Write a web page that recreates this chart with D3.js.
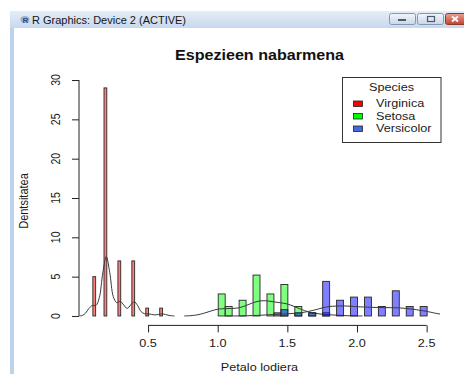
<!DOCTYPE html>
<html>
<head>
<meta charset="utf-8">
<script src="https://cdn.jsdelivr.net/npm/d3@7"></script>
<style>
  html, body { margin: 0; padding: 0; background: #fff; }
  svg { display: block; font-family: "Liberation Sans", Arial, sans-serif; }
</style>
</head>
<body>
<svg id="chart" width="464" height="374"></svg>
<script>
// Histogram bins (density per bin) for each species, with the bin breaks
const setosaBreakStart = 0.1, setosaBinWidth = 0.02;
const setosaDensity = [5, 0, 0, 0, 29, 0, 0, 0, 0, 7, 0, 0, 0, 0, 7, 0, 0, 0, 0, 1, 0, 0, 0, 0, 1];

const versicolorBreakStart = 1.0, versicolorBinWidth = 0.05;
const versicolorDensity = [2.8, 1.2, 0, 2.0, 0, 5.2, 0, 2.8, 0, 4.0, 0, 1.2, 0, 0.4, 0, 0.4];

const virginicaBreakStart = 1.4, virginicaBinWidth = 0.05;
const virginicaDensity = [0.4, 0.8, 0, 0.4, 0, 0.4, 0, 4.4, 0, 2.0, 0, 2.4, 0, 2.4, 0, 1.2, 0, 3.2, 0, 1.2, 0, 1.2];

// Kernel density curves
const setosaCurveX = [0.007, 0.03, 0.05, 0.075, 0.1, 0.125, 0.15, 0.175, 0.2, 0.225, 0.25, 0.275, 0.3, 0.325, 0.35, 0.375, 0.4, 0.425, 0.45, 0.475, 0.5, 0.525, 0.55, 0.575, 0.6, 0.625, 0.65, 0.675, 0.69];
const setosaCurveY = [0.0, 0.08, 0.34, 0.95, 1.34, 1.32, 2.34, 5.48, 7.55, 5.5, 2.48, 1.69, 1.86, 1.4, 0.96, 1.4, 1.82, 1.32, 0.55, 0.28, 0.27, 0.2, 0.14, 0.2, 0.27, 0.19, 0.07, 0.015, 0.0];

const versicolorCurveX = [0.76, 0.8, 0.85, 0.9, 0.95, 1.0, 1.05, 1.1, 1.15, 1.2, 1.25, 1.3, 1.35, 1.4, 1.45, 1.5, 1.55, 1.6, 1.65, 1.7, 1.75, 1.8, 1.85, 1.9, 1.95, 2.0, 2.04];
const versicolorCurveY = [0.0, 0.03, 0.13, 0.34, 0.62, 0.86, 0.93, 0.95, 1.03, 1.3, 1.66, 1.9, 1.93, 1.8, 1.68, 1.52, 1.2, 0.84, 0.52, 0.33, 0.22, 0.16, 0.1, 0.05, 0.02, 0.005, 0.0];

const virginicaCurveX = [1.06, 1.1, 1.2, 1.3, 1.4, 1.5, 1.6, 1.7, 1.75, 1.8, 1.85, 1.9, 1.95, 2.0, 2.1, 2.2, 2.3, 2.4, 2.5, 2.55, 2.6, 2.7, 2.8];
const virginicaCurveY = [0.0, 0.003, 0.02, 0.08, 0.19, 0.28, 0.41, 0.78, 1.02, 1.2, 1.26, 1.28, 1.24, 1.18, 1.1, 1.06, 1.03, 0.86, 0.58, 0.4, 0.23, 0.06, 0.01];

// Axis ticks and labels
const xTicks = [0.5, 1.0, 1.5, 2.0, 2.5];
const yTicks = [0, 5, 10, 15, 20, 25, 30];
const legendLabels = ["Virginica", "Setosa", "Versicolor"];
const legendColors = ["#ff0000", "#00ff00", "#4169e1"];
const titleText = "Espezieen nabarmena";
const xLabel = "Petalo lodiera";
const yLabel = "Dentsitatea";
const windowTitle = "R Graphics: Device 2 (ACTIVE)";

const SX = 1.15; // horizontal stretch of the device text

const svg = d3.select("#chart");
const defs = svg.append("defs");

// ---------- window frame ----------
svg.append("rect").attr("x", 0).attr("y", 0).attr("width", 464).attr("height", 374).attr("fill", "#fff");

const tbGrad = defs.append("linearGradient").attr("id", "tbGrad").attr("x1", 0).attr("y1", 0).attr("x2", 0).attr("y2", 1);
tbGrad.append("stop").attr("offset", "0%").attr("stop-color", "#e4edf8");
tbGrad.append("stop").attr("offset", "100%").attr("stop-color", "#c8d8ec");
svg.append("rect").attr("x", 10).attr("y", 11).attr("width", 454).attr("height", 17).attr("fill", "url(#tbGrad)");
svg.append("rect").attr("x", 10).attr("y", 28).attr("width", 4).attr("height", 346).attr("fill", "#bcd3eb");

// title-bar icon
svg.append("ellipse").attr("cx", 25).attr("cy", 19.5).attr("rx", 4.5).attr("ry", 3.5).attr("fill", "#a7afba");
svg.append("text").attr("x", 25.5).attr("y", 23).attr("text-anchor", "middle")
  .attr("font-size", 8).attr("font-weight", "bold").attr("fill", "#1f4fa8").text("R");
svg.append("text").attr("x", 32).attr("y", 23.5).attr("font-size", 11).attr("fill", "#151515")
  .attr("font-family", "'Liberation Sans', Arial, sans-serif").text(windowTitle);

// title-bar buttons
const btnGrad = defs.append("linearGradient").attr("id", "btnGrad").attr("x1", 0).attr("y1", 0).attr("x2", 0).attr("y2", 1);
btnGrad.append("stop").attr("offset", "0%").attr("stop-color", "#f2f6fb");
btnGrad.append("stop").attr("offset", "100%").attr("stop-color", "#c9d6e6");
const closeGrad = defs.append("linearGradient").attr("id", "closeGrad").attr("x1", 0).attr("y1", 0).attr("x2", 0).attr("y2", 1);
closeGrad.append("stop").attr("offset", "0%").attr("stop-color", "#e8a395");
closeGrad.append("stop").attr("offset", "100%").attr("stop-color", "#c4412c");

svg.append("rect").attr("x", 389.5).attr("y", 13.5).attr("width", 26).attr("height", 11).attr("rx", 2)
  .attr("fill", "url(#btnGrad)").attr("stroke", "#8596ae");
svg.append("rect").attr("x", 398).attr("y", 19).attr("width", 8).attr("height", 2).attr("fill", "#4a5a70");
svg.append("rect").attr("x", 417.5).attr("y", 13.5).attr("width", 26).attr("height", 11).attr("rx", 2)
  .attr("fill", "url(#btnGrad)").attr("stroke", "#8596ae");
svg.append("rect").attr("x", 427.5).attr("y", 16.5).attr("width", 7).attr("height", 5).attr("fill", "none").attr("stroke", "#4a5a70").attr("stroke-width", 1.2);
svg.append("rect").attr("x", 445.5).attr("y", 13.5).attr("width", 24).attr("height", 11).attr("rx", 2)
  .attr("fill", "url(#closeGrad)").attr("stroke", "#8a3a2e");
svg.append("path").attr("d", "M452,16.5 L458,21.5 M458,16.5 L452,21.5").attr("stroke", "#fff").attr("stroke-width", 1.8);

// ---------- plot ----------
const x = d3.scaleLinear().domain([0.004, 2.596]).range([79, 440]);
const y = d3.scaleLinear().domain([-1.2, 31.2]).range([325.4, 70.6]);

defs.append("clipPath").attr("id", "plotClip").append("rect")
  .attr("x", 79).attr("y", 70.6).attr("width", 361).attr("height", 254.8);

// text with the device's horizontal stretch
function devText(parent, tx, ty, str, opt) {
  const g = parent.append("g")
    .attr("transform", `translate(${tx},${ty}) scale(${SX},1)` + (opt.rotate ? ` rotate(${opt.rotate})` : ""));
  g.append("text")
    .attr("text-anchor", opt.anchor || "start")
    .attr("font-size", opt.size)
    .attr("font-weight", opt.weight || "normal")
    .attr("fill", opt.fill || "#1a1a1a")
    .text(str);
  return g;
}

const plot = svg.append("g").attr("clip-path", "url(#plotClip)");

function drawHist(values, start, width, fill) {
  const bins = values.map((v, i) => ({ x0: start + i * width, x1: start + (i + 1) * width, v }));
  plot.append("g").selectAll("rect").data(bins).join("rect")
    .attr("x", d => x(d.x0) + 0.5)
    .attr("width", d => x(d.x1) - x(d.x0))
    .attr("y", d => y(d.v))
    .attr("height", d => y(0) - y(d.v))
    .attr("fill", fill)
    .attr("stroke", "#262626")
    .attr("stroke-width", 0.9);
}

function drawCurve(xs, ys) {
  const pts = xs.map((v, i) => [v, ys[i]]);
  plot.append("path").datum(pts)
    .attr("d", d3.line().x(d => x(d[0])).y(d => y(d[1])).curve(d3.curveCatmullRom))
    .attr("fill", "none").attr("stroke", "#3a3a3a").attr("stroke-width", 1);
}

drawHist(setosaDensity, setosaBreakStart, setosaBinWidth, "rgba(255,0,0,0.5)");
drawCurve(setosaCurveX, setosaCurveY);
drawHist(versicolorDensity, versicolorBreakStart, versicolorBinWidth, "rgba(0,255,0,0.5)");
drawCurve(versicolorCurveX, versicolorCurveY);
drawHist(virginicaDensity, virginicaBreakStart, virginicaBinWidth, "rgba(0,0,255,0.5)");
drawCurve(virginicaCurveX, virginicaCurveY);

// ---------- axes ----------
const yAxis = svg.append("g").attr("transform", "translate(79,0)")
  .call(d3.axisLeft(y).tickValues(yTicks).tickSize(7).tickSizeOuter(0).tickFormat(d3.format("d")));
yAxis.select(".domain").remove();
yAxis.selectAll(".tick line").attr("stroke", "#222");
yAxis.selectAll(".tick text").remove();
yAxis.append("line").attr("x1", 0).attr("x2", 0).attr("y1", y(yTicks[0])).attr("y2", y(yTicks[yTicks.length - 1])).attr("stroke", "#222");
yTicks.forEach(t => devText(svg, 59.5, y(t), String(t), { size: 10.5, anchor: "middle", rotate: -90 }));

const xAxis = svg.append("g").attr("transform", "translate(0,325.4)")
  .call(d3.axisBottom(x).tickValues(xTicks).tickSize(7).tickSizeOuter(0).tickFormat(d3.format(".1f")));
xAxis.select(".domain").remove();
xAxis.selectAll(".tick line").attr("stroke", "#222");
xAxis.selectAll(".tick text").remove();
xAxis.append("line").attr("y1", 0).attr("y2", 0).attr("x1", x(xTicks[0])).attr("x2", x(xTicks[xTicks.length - 1])).attr("stroke", "#222");
xTicks.forEach(t => devText(svg, x(t), 347, d3.format(".1f")(t), { size: 11, anchor: "middle" }));

// ---------- titles ----------
devText(svg, 259.5, 60, titleText, { size: 14, weight: "bold", anchor: "middle", fill: "#111" });
devText(svg, 259.5, 371, xLabel, { size: 11, anchor: "middle" });
devText(svg, 28, 201, yLabel, { size: 11, anchor: "middle", rotate: -90 });

// ---------- legend ----------
const lg = svg.append("g");
lg.append("rect").attr("x", 342.5).attr("y", 77.5).attr("width", 98.5).attr("height", 65)
  .attr("fill", "#fff").attr("stroke", "#333");
devText(lg, 391.5, 91, "Species", { size: 11, anchor: "middle" });
legendLabels.forEach((lab, i) => {
  const rowY = 101 + i * 12.5;
  lg.append("rect").attr("x", 353.5).attr("y", rowY).attr("width", 9).attr("height", 5.5)
    .attr("fill", legendColors[i]).attr("stroke", "#222").attr("stroke-width", 0.8);
  devText(lg, 376, rowY + 6, lab, { size: 11 });
});
</script>
</body>
</html>
